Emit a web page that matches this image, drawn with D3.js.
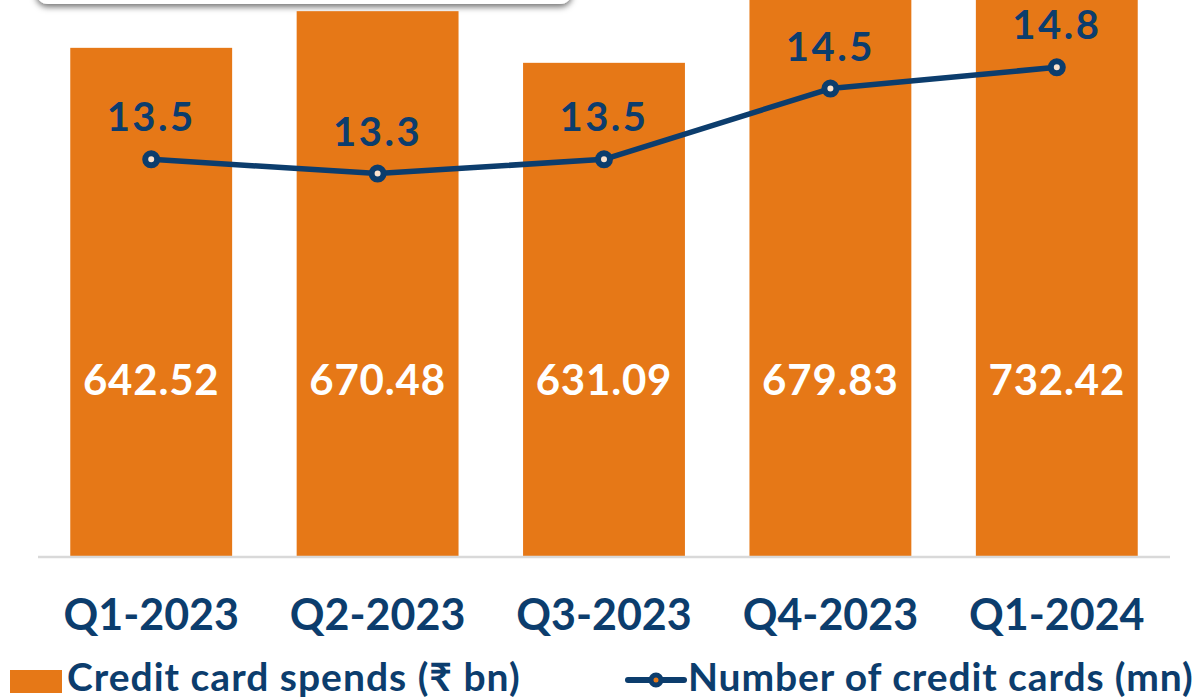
<!DOCTYPE html>
<html>
<head>
<meta charset="utf-8">
<script src="https://cdn.jsdelivr.net/npm/d3@7"></script>
<style>
  html, body { margin: 0; padding: 0; background: #fff; }
  svg { display: block; font-family: Lato, "Open Sans", sans-serif; }
</style>
</head>
<body>
<div id="chart"></div>
<script>
// chart data
const quarters = ['Q1-2023', 'Q2-2023', 'Q3-2023', 'Q4-2023', 'Q1-2024'];
const spends = [642.52, 670.48, 631.09, 679.83, 732.42];
const cards = [13.5, 13.3, 13.5, 14.5, 14.8];
const legendLabels = ['Credit card spends (₹ bn)', 'Number of credit cards (mn)'];

const width = 1198, height = 698;
const orange = '#E67817', navy = '#0C3D6D';
const baseY = 556;

const svg = d3.select('#chart').append('svg')
  .attr('width', width)
  .attr('height', height);

const defs = svg.append('defs');
const shadow = defs.append('filter').attr('id', 'shadow')
  .attr('x', '-10%').attr('y', '-50%').attr('width', '120%').attr('height', '200%');
shadow.append('feDropShadow')
  .attr('dx', 0).attr('dy', 3).attr('stdDeviation', 3)
  .attr('flood-color', '#000').attr('flood-opacity', 0.55);

// title box peeking in at the top
svg.append('rect')
  .attr('x', 36).attr('y', -50)
  .attr('width', 536).attr('height', 54)
  .attr('rx', 12)
  .attr('fill', '#fff')
  .attr('filter', 'url(#shadow)');

const x = d3.scaleBand()
  .domain(quarters)
  .range([38, 1170])
  .paddingInner(0.285)
  .paddingOuter(0.1425);

// value axis is not shown; the bars start from a non-zero floor
const y = d3.scaleLinear().domain([255, 679]).range([baseY, 0]);
const y2 = d3.scaleLinear().domain([7.9, 15.75]).range([baseY, 0]);

const rows = quarters.map((q, i) => ({ q, spend: spends[i], count: cards[i] }));

// bars
svg.append('g').selectAll('rect')
  .data(rows)
  .join('rect')
  .attr('x', d => x(d.q))
  .attr('y', d => y(d.spend))
  .attr('width', x.bandwidth())
  .attr('height', d => baseY - y(d.spend))
  .attr('fill', orange);

// bar value labels
svg.append('g').selectAll('text')
  .data(rows)
  .join('text')
  .attr('x', d => x(d.q) + x.bandwidth() / 2)
  .attr('y', 395)
  .attr('text-anchor', 'middle')
  .attr('font-size', 42)
  .attr('font-weight', 700)
  .attr('letter-spacing', 0.8)
  .attr('fill', '#fff')
  .text(d => d3.format('.2f')(d.spend));

// baseline
svg.append('line')
  .attr('x1', 38).attr('x2', 1170)
  .attr('y1', baseY + 1).attr('y2', baseY + 1)
  .attr('stroke', '#d9d9d9')
  .attr('stroke-width', 2.5);

// x axis labels
const xAxis = svg.append('g')
  .attr('transform', `translate(0, ${baseY})`)
  .call(d3.axisBottom(x).tickSize(0).tickPadding(0));
xAxis.select('.domain').remove();
xAxis.selectAll('text')
  .attr('dy', null)
  .attr('y', 74)
  .attr('font-family', 'Lato, sans-serif')
  .attr('font-size', 43)
  .attr('font-weight', 700)
  .attr('fill', navy);

// card count line
const cx = d => x(d.q) + x.bandwidth() / 2;
svg.append('path')
  .datum(rows)
  .attr('fill', 'none')
  .attr('stroke', navy)
  .attr('stroke-width', 5.5)
  .attr('stroke-linejoin', 'round')
  .attr('d', d3.line().x(cx).y(d => y2(d.count)));

svg.append('g').selectAll('circle')
  .data(rows)
  .join('circle')
  .attr('cx', cx)
  .attr('cy', d => y2(d.count))
  .attr('r', 6)
  .attr('fill', '#fbe3cf')
  .attr('stroke', navy)
  .attr('stroke-width', 6);

svg.append('g').selectAll('text')
  .data(rows)
  .join('text')
  .attr('x', cx)
  .attr('y', d => y2(d.count) - 28)
  .attr('text-anchor', 'middle')
  .attr('font-size', 40)
  .attr('font-weight', 700)
  .attr('letter-spacing', 2.5)
  .attr('fill', navy)
  .text(d => d3.format('.1f')(d.count));

// legend
const legend = svg.append('g');
legend.append('rect')
  .attr('x', 10).attr('y', 670)
  .attr('width', 52).attr('height', 23)
  .attr('fill', orange);
legend.append('text')
  .attr('x', 67).attr('y', 691)
  .attr('font-size', 39).attr('font-weight', 700)
  .attr('letter-spacing', 1)
  .attr('fill', navy)
  .text(legendLabels[0]);

legend.append('line')
  .attr('x1', 628).attr('x2', 684)
  .attr('y1', 680).attr('y2', 680)
  .attr('stroke', navy).attr('stroke-width', 6)
  .attr('stroke-linecap', 'round');
legend.append('circle')
  .attr('cx', 656).attr('cy', 680).attr('r', 5)
  .attr('fill', orange)
  .attr('stroke', navy).attr('stroke-width', 5);
legend.append('text')
  .attr('x', 688).attr('y', 691)
  .attr('font-size', 39).attr('font-weight', 700)
  .attr('letter-spacing', 0.9)
  .attr('fill', navy)
  .text(legendLabels[1]);
</script>
</body>
</html>
